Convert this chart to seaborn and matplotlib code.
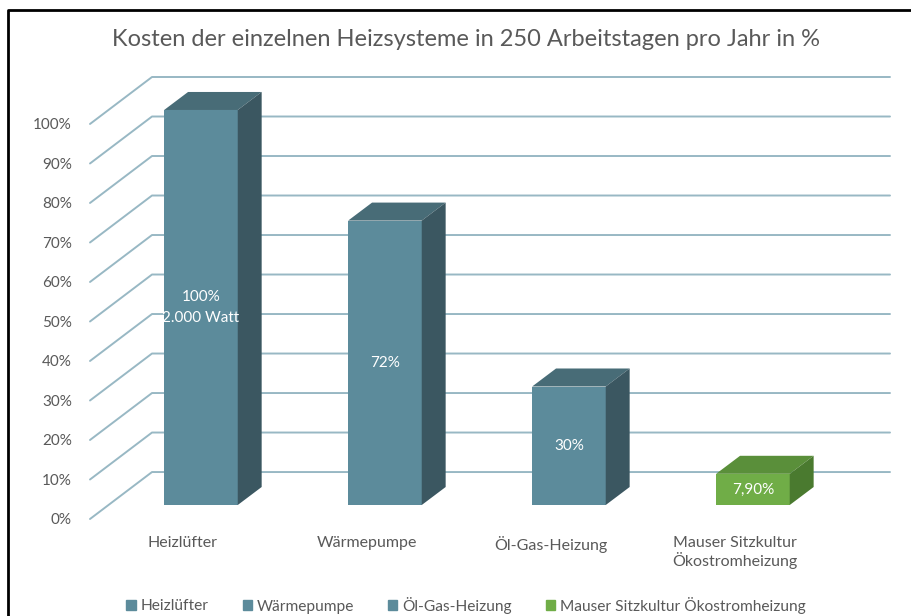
import matplotlib
matplotlib.use("Agg")
import matplotlib.pyplot as plt
import seaborn as sns
import numpy as np
import pandas as pd
from matplotlib.patches import Polygon, Patch
from matplotlib.lines import Line2D

# ---- data ----
categories = ["Heizlüfter", "Wärmepumpe", "Öl-Gas-Heizung", "Mauser Sitzkultur Ökostromheizung"]
tick_names = ["Heizlüfter", "Wärmepumpe", "Öl-Gas-Heizung", "Mauser Sitzkultur\nÖkostromheizung"]
values = [100, 72, 30, 7.9]
bar_labels = ["100%\n2.000 Watt", "72%", "30%", "7,90%"]
y_ticks = [0, 10, 20, 30, 40, 50, 60, 70, 80, 90, 100]
title = "Kosten der einzelnen Heizsysteme in 250 Arbeitstagen pro Jahr in %"

front_cols = ["#5C8B9B", "#5C8B9B", "#5C8B9B", "#70AD47"]
top_cols = ["#486C77", "#486C77", "#486C77", "#5A8F3A"]
side_cols = ["#3B5761", "#3B5761", "#3B5761", "#4A7A2F"]
grid_col = "#98B8C4"
txt_col = "#595959"

sns.set_theme(style="white")
plt.rcParams["font.family"] = ["Lato", "DejaVu Sans"]

fig = plt.figure(figsize=(9.12, 6.16), dpi=100)
ax = fig.add_axes([90/912, 1-519/616, 800/912, 442/616])

df = pd.DataFrame({"cat": categories, "val": values})
sns.barplot(data=df, x="cat", y="val", hue="cat", palette=front_cols, width=0.4,
            dodge=False, linewidth=0, saturation=1, ax=ax, zorder=2)

# 3D geometry (data units)
FRONT_Y = -3.54      # front plane offset of the floor
BACK_Y = 8.35        # back wall offset
DEPTH_X = 0.337      # full depth in x
bar_dx, bar_dy = 0.13, 4.56
ax.set_xlim(-0.603, 3.745)
ax.set_ylim(-3.54, 108.35)

# walls / gridlines
for v in y_ticks:
    ax.add_line(Line2D([-0.603, -0.603 + DEPTH_X, 3.745],
                       [v + FRONT_Y, v + BACK_Y, v + BACK_Y],
                       color=grid_col, lw=1.4, zorder=0.5, clip_on=False))

# 3D bar sides and tops
for i, p in enumerate(ax.patches[:len(values)]):
    x0 = p.get_x(); w = p.get_width(); h = p.get_height()
    x1 = x0 + w
    top = Polygon([(x0, h), (x1, h), (x1 + bar_dx, h + bar_dy), (x0 + bar_dx, h + bar_dy)],
                  closed=True, facecolor=top_cols[i], edgecolor="none", zorder=2)
    side = Polygon([(x1, 0), (x1 + bar_dx, bar_dy), (x1 + bar_dx, h + bar_dy), (x1, h)],
                   closed=True, facecolor=side_cols[i], edgecolor="none", zorder=2)
    ax.add_patch(top); ax.add_patch(side)
    ax.text(x0 + w/2, h/2, bar_labels[i], color="white", ha="center", va="center",
            fontsize=11, linespacing=1.55, zorder=3)

# axes ticks on front plane
ax.set_yticks([v + FRONT_Y for v in y_ticks], [f"{v}%" for v in y_ticks])
ax.set_xticks([i - 0.1 for i in range(len(categories))], tick_names)
ax.tick_params(axis="y", length=0, pad=13, labelsize=11, labelcolor=txt_col)
ax.tick_params(axis="x", length=0, pad=12, labelsize=11.5, labelcolor=txt_col)
ax.set_xlabel(""); ax.set_ylabel("")
for s in ax.spines.values():
    s.set_visible(False)

# legend
handles, labels = ax.get_legend_handles_labels()
if ax.get_legend() is not None:
    ax.get_legend().remove()
if not handles:
    handles = [Patch(color=c) for c in front_cols]
    labels = categories
fig.legend(handles, labels, loc="center", bbox_to_anchor=(466/912, 1-605/616), ncol=4,
           frameon=False, handlelength=0.6, handleheight=0.6, handletextpad=0.3,
           columnspacing=2.2, fontsize=11.2, labelcolor=txt_col)

fig.text(466/912, 1-40/616, title, ha="center", va="center", fontsize=17, color=txt_col)

# frame border (top & left)
fig.add_artist(Line2D([8/912, 8/912, 1], [0, 1-10/616, 1-10/616], color="black", lw=2,
                      transform=fig.transFigure))

fig.savefig("out.png", dpi=100)
